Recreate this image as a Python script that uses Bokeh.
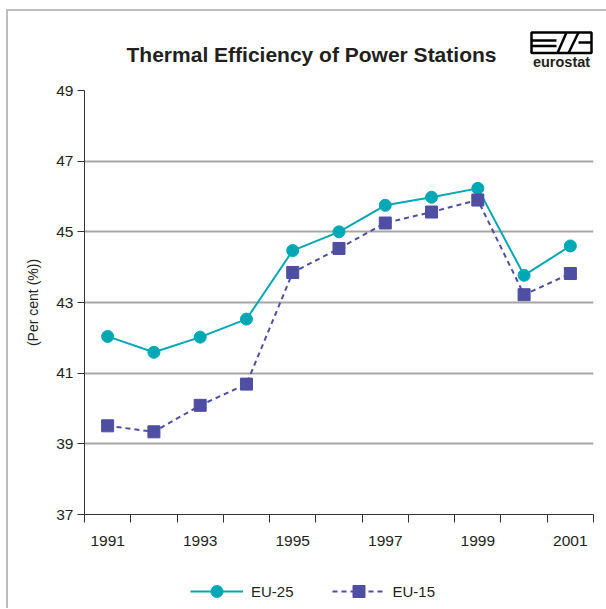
from bokeh.plotting import figure
from bokeh.models import Range1d, FixedTicker, Legend, LegendItem
from bokeh.layouts import column
from bokeh.core.properties import value
from bokeh.embed import file_html
from bokeh.resources import INLINE

years = [1991, 1992, 1993, 1994, 1995, 1996, 1997, 1998, 1999, 2000, 2001]
eu25 = [42.04, 41.59, 42.02, 42.53, 44.47, 45.00, 45.75, 45.98, 46.23, 43.77, 44.60]
eu15 = [39.51, 39.34, 40.09, 40.69, 43.85, 44.53, 45.25, 45.56, 45.90, 43.22, 43.82]
year_labels = [1991, 1993, 1995, 1997, 1999, 2001]
y_ticks = [37, 39, 41, 43, 45, 47, 49]
series_names = ["EU-25", "EU-15"]
title_text = "Thermal Efficiency of Power Stations"
y_label = "(Per cent (%))"

TEAL = "#00A7B4"
PURPLE = "#4E4EA2"
TXT = "#231F20"
FONT = "Liberation Sans"
W = 598

STYLE25 = dict(line_color=TEAL, line_width=2)
STYLE15 = dict(line_color=PURPLE, line_width=2, line_dash="5 4")
MARK25 = dict(marker="circle", size=12, fill_color=TEAL, line_color=TEAL)
MARK15 = dict(marker="square", size=12, fill_color=PURPLE, line_color=PURPLE)

# ---------- header: title + logo (frame aligned with main frame) ----------
h = figure(width=W, height=71, output_backend="svg", toolbar_location=None, title=None,
           x_range=Range1d(84, 593), y_range=Range1d(83, 12),
           x_axis_location=None, y_axis_location=None,
           min_border_left=76, min_border_right=13, min_border_top=0, min_border_bottom=0)
h.outline_line_color = None
h.grid.visible = False
h.text(x=[311], y=[55], text=[title_text], text_align="center", text_baseline="middle",
       text_font=value(FONT), text_font_style="bold", text_font_size="21px", text_color=TXT)
# eurostat logo (decoration)
h.quad(left=[531], right=[591], top=[33], bottom=[53.5], fill_color="white",
       line_color="black", line_width=2.5)
h.multi_line(xs=[[531, 556], [531, 556], [557, 566], [568, 578], [578, 591]],
             ys=[[41, 41], [46.5, 46.5], [53.5, 33], [53.5, 33], [43, 43]],
             line_color="black", line_width=2.5)
h.text(x=[561], y=[62], text=["eurostat"], text_align="center", text_baseline="middle",
       text_font=value(FONT), text_font_style="bold", text_font_size="14.5px", text_color=TXT)

# ---------- main chart ----------
p = figure(width=W, height=477, output_backend="svg", toolbar_location=None, title=None,
           x_range=Range1d(years[0] - 0.5, years[-1] + 0.5), y_range=Range1d(37, 49),
           min_border_left=76, min_border_right=13, min_border_top=8, min_border_bottom=45)
p.outline_line_color = None
p.xaxis.ticker = FixedTicker(ticks=year_labels,
                             minor_ticks=[y - 0.5 for y in years] + [years[-1] + 0.5])
p.xaxis.major_tick_out = 0
p.xaxis.major_tick_in = 0
p.xaxis.minor_tick_out = 8
p.xaxis.minor_tick_in = 0
p.xaxis.minor_tick_line_color = "#333333"
p.xaxis.axis_line_color = "#333333"
p.xaxis.major_label_standoff = 13
p.yaxis.ticker = FixedTicker(ticks=y_ticks)
p.yaxis.major_tick_out = 7
p.yaxis.major_tick_in = 0
p.yaxis.minor_tick_line_color = None
p.yaxis.major_tick_line_color = "#333333"
p.yaxis.axis_line_color = "#333333"
p.yaxis.major_label_standoff = 4
p.yaxis.axis_label = y_label
p.yaxis.axis_label_standoff = 12
p.yaxis.axis_label_text_font = FONT
p.yaxis.axis_label_text_font_style = "normal"
p.yaxis.axis_label_text_font_size = "14px"
p.yaxis.axis_label_text_color = TXT
for ax in (p.xaxis, p.yaxis):
    ax.major_label_text_font = FONT
    ax.major_label_text_font_size = "15.5px"
    ax.major_label_text_color = TXT
p.xgrid.grid_line_color = None
p.ygrid.grid_line_color = "#A6A6A6"
p.ygrid.grid_line_width = 2
p.ygrid.ticker = FixedTicker(ticks=y_ticks)

p.line(years, eu25, **STYLE25)
p.scatter(years, eu25, **MARK25)
p.line(years, eu15, **STYLE15)
p.scatter(years, eu15, **MARK15)

# ---------- footer: legend (its y-range keeps the series out of view) ----------
f = figure(width=W, height=49, output_backend="svg", toolbar_location=None, title=None,
           x_range=Range1d(years[0] - 0.5, years[-1] + 0.5), y_range=Range1d(0, 1),
           x_axis_location=None, y_axis_location=None,
           min_border_left=76, min_border_right=13, min_border_top=0, min_border_bottom=0)
f.outline_line_color = None
f.grid.visible = False
fl25 = f.line(years, eu25, **STYLE25)
fs25 = f.scatter(years, eu25, **MARK25)
fl15 = f.line(years, eu15, **STYLE15)
fs15 = f.scatter(years, eu15, **MARK15)
legend = Legend(items=[LegendItem(label=series_names[0], renderers=[fl25, fs25]),
                       LegendItem(label=series_names[1], renderers=[fl15, fs15])],
                orientation="horizontal", location=(106, 2),
                glyph_width=53, glyph_height=30, label_standoff=8, spacing=38,
                padding=0, margin=0, border_line_color=None, background_fill_alpha=0,
                label_text_font=FONT, label_text_font_size="15px", label_text_color=TXT)
f.add_layout(legend, "center")

layout = column(h, p, f, spacing=0,
                styles={"border-left": "2px solid #BDBDBD", "border-top": "2px solid #BDBDBD",
                        "margin-left": "6px", "margin-top": "9px"})

open("out.html", "w").write(file_html(layout, INLINE))
